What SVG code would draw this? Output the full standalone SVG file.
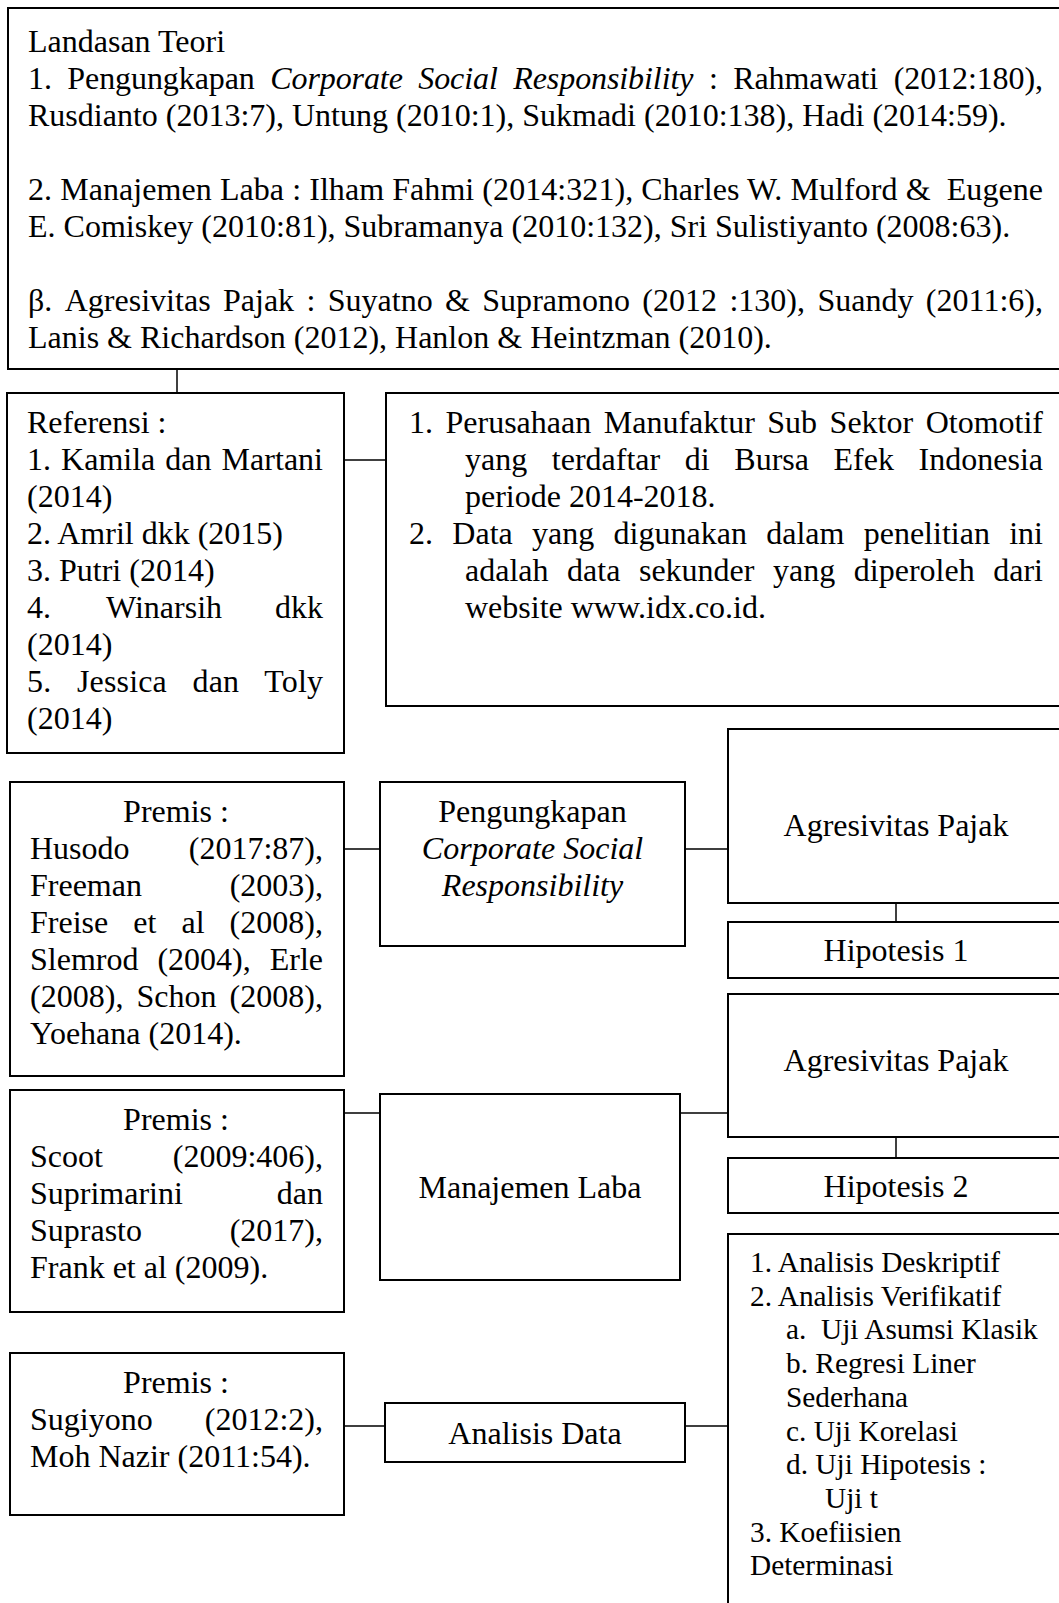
<svg xmlns="http://www.w3.org/2000/svg" width="1059" height="1603" viewBox="0 0 1059 1603">
<style>
.b{fill:#fff;stroke:#000;stroke-width:2}
.c{stroke:#000;stroke-width:1.5;fill:none}
text{font-family:"Liberation Serif","Times New Roman",serif;font-size:32px;fill:#000}
.s{font-size:29.33px}
.i{font-style:italic}
.m{text-anchor:middle}
.e{text-anchor:end}
</style>
<rect width="1059" height="1603" fill="#fff"/>
<g id="connectors">
<path class="c" d="M177 369V393"/>
<path class="c" d="M344 460H386"/>
<path class="c" d="M344 849H380M685 849H728"/>
<path class="c" d="M896 903V922"/>
<path class="c" d="M344 1113H380M680 1113H728"/>
<path class="c" d="M896 1137V1158"/>
<path class="c" d="M344 1426H385M685 1426H728"/>
</g>
<g id="landasan-teori">
<rect class="b" x="8" y="8" width="1062" height="361"/>
<text x="28" y="52">Landasan Teori</text>
<text x="28" y="89" textLength="1015" lengthAdjust="spacing" style="word-spacing:7.6px">1. Pengungkapan <tspan class="i">Corporate Social Responsibility</tspan> : Rahmawati (2012:180),</text>
<text x="28" y="126">Rusdianto (2013:7), Untung (2010:1), Sukmadi (2010:138), Hadi (2014:59).</text>
<text x="28" y="200" textLength="1015" lengthAdjust="spacing" xml:space="preserve">2. Manajemen Laba : Ilham Fahmi (2014:321), Charles W. Mulford &amp;  Eugene</text>
<text x="28" y="237">E. Comiskey (2010:81), Subramanya (2010:132), Sri Sulistiyanto (2008:63).</text>
<text x="28" y="311" textLength="1015" lengthAdjust="spacing" style="word-spacing:4.3px">β. Agresivitas Pajak : Suyatno &amp; Supramono (2012 :130), Suandy (2011:6),</text>
<text x="28" y="348">Lanis &amp; Richardson (2012), Hanlon &amp; Heintzman (2010).</text>
</g>
<g id="referensi">
<rect class="b" x="7" y="393" width="337" height="360"/>
<text x="27" y="433">Referensi :</text>
<text x="27" y="470" textLength="296" lengthAdjust="spacing" style="word-spacing:2px">1. Kamila dan Martani</text>
<text x="27" y="507">(2014)</text>
<text x="27" y="544">2. Amril dkk (2015)</text>
<text x="27" y="581">3. Putri (2014)</text>
<text x="27" y="618">4.</text>
<text x="106" y="618">Winarsih</text>
<text class="e" x="323" y="618">dkk</text>
<text x="27" y="655">(2014)</text>
<text x="27" y="692" textLength="296" lengthAdjust="spacing" style="word-spacing:17.5px">5. Jessica dan Toly</text>
<text x="27" y="729">(2014)</text>
</g>
<g id="objek-data">
<rect class="b" x="386" y="393" width="684" height="313"/>
<text x="409" y="433" textLength="634" lengthAdjust="spacing" style="word-spacing:4.5px">1. Perusahaan Manufaktur Sub Sektor Otomotif</text>
<text x="465" y="470" textLength="578" lengthAdjust="spacing" style="word-spacing:16.6px">yang terdaftar di Bursa Efek Indonesia</text>
<text x="465" y="507">periode 2014-2018.</text>
<text x="409" y="544" textLength="634" lengthAdjust="spacing" style="word-spacing:11.3px">2. Data yang digunakan dalam penelitian ini</text>
<text x="465" y="581" textLength="578" lengthAdjust="spacing" style="word-spacing:10.6px">adalah data sekunder yang diperoleh dari</text>
<text x="465" y="618">website www.idx.co.id.</text>
</g>
<g id="premis-1">
<rect class="b" x="10" y="782" width="334" height="294"/>
<text class="m" x="176" y="822">Premis :</text>
<text x="30" y="859">Husodo</text>
<text class="e" x="323" y="859">(2017:87),</text>
<text x="30" y="896">Freeman</text>
<text class="e" x="323" y="896">(2003),</text>
<text x="30" y="933" textLength="293" lengthAdjust="spacing" style="word-spacing:17px">Freise et al (2008),</text>
<text x="30" y="970" textLength="293" lengthAdjust="spacing" style="word-spacing:11px">Slemrod (2004), Erle</text>
<text x="30" y="1007" textLength="293" lengthAdjust="spacing" style="word-spacing:5px">(2008), Schon (2008),</text>
<text x="30" y="1044">Yoehana (2014).</text>
</g>
<g id="pengungkapan-csr">
<rect class="b" x="380" y="782" width="305" height="164"/>
<text class="m" x="532.5" y="822">Pengungkapan</text>
<text class="m i" x="532.5" y="859">Corporate Social</text>
<text class="m i" x="532.5" y="896">Responsibility</text>
</g>
<g id="agresivitas-pajak-1">
<rect class="b" x="728" y="729" width="342" height="174"/>
<text class="m" x="896" y="836">Agresivitas Pajak</text>
</g>
<g id="hipotesis-1">
<rect class="b" x="728" y="922" width="342" height="56"/>
<text class="m" x="896" y="961">Hipotesis 1</text>
</g>
<g id="agresivitas-pajak-2">
<rect class="b" x="728" y="994" width="342" height="143"/>
<text class="m" x="896" y="1071">Agresivitas Pajak</text>
</g>
<g id="hipotesis-2">
<rect class="b" x="728" y="1158" width="342" height="55"/>
<text class="m" x="896" y="1197">Hipotesis 2</text>
</g>
<g id="premis-2">
<rect class="b" x="10" y="1090" width="334" height="222"/>
<text class="m" x="176" y="1130">Premis :</text>
<text x="30" y="1167">Scoot</text>
<text class="e" x="323" y="1167">(2009:406),</text>
<text x="30" y="1204">Suprimarini</text>
<text class="e" x="323" y="1204">dan</text>
<text x="30" y="1241">Suprasto</text>
<text class="e" x="323" y="1241">(2017),</text>
<text x="30" y="1278">Frank et al (2009).</text>
</g>
<g id="manajemen-laba">
<rect class="b" x="380" y="1094" width="300" height="186"/>
<text class="m" x="530" y="1198">Manajemen Laba</text>
</g>
<g id="analisis">
<rect class="b" x="728" y="1234" width="342" height="400"/>
<text class="s" x="750" y="1272">1. Analisis Deskriptif</text>
<text class="s" x="750" y="1305.7">2. Analisis Verifikatif</text>
<text class="s" x="786" y="1339.4" xml:space="preserve">a.  Uji Asumsi Klasik</text>
<text class="s" x="786" y="1373.1">b. Regresi Liner</text>
<text class="s" x="786" y="1406.8">Sederhana</text>
<text class="s" x="786" y="1440.5">c. Uji Korelasi</text>
<text class="s" x="786" y="1474.2">d. Uji Hipotesis :</text>
<text class="s" x="825" y="1507.9">Uji t</text>
<text class="s" x="750" y="1541.6">3. Koefiisien</text>
<text class="s" x="750" y="1575.3">Determinasi</text>
</g>
<g id="premis-3">
<rect class="b" x="10" y="1353" width="334" height="162"/>
<text class="m" x="176" y="1393">Premis :</text>
<text x="30" y="1430">Sugiyono</text>
<text class="e" x="323" y="1430">(2012:2),</text>
<text x="30" y="1467">Moh Nazir (2011:54).</text>
</g>
<g id="analisis-data">
<rect class="b" x="385" y="1403" width="300" height="59"/>
<text class="m" x="535" y="1444">Analisis Data</text>
</g>
</svg>
